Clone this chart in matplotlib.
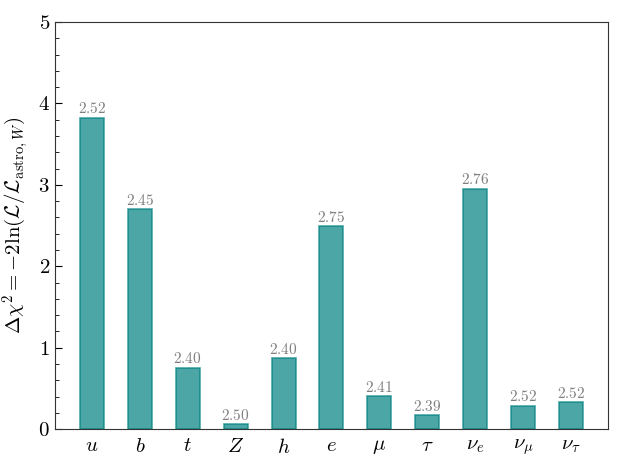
import numpy as np
import matplotlib
matplotlib.use("Agg")
import matplotlib.pyplot as plt
from matplotlib.ticker import MultipleLocator

plt.rcParams["font.family"] = "serif"
plt.rcParams["font.serif"] = ["cmr10"]
plt.rcParams["mathtext.fontset"] = "cm"
plt.rcParams["axes.formatter.use_mathtext"] = True

labels = [r"$u$", r"$b$", r"$t$", r"$Z$", r"$h$", r"$e$", r"$\mu$", r"$\tau$",
          r"$\nu_e$", r"$\nu_\mu$", r"$\nu_\tau$"]
delta_chi2 = [3.82, 2.70, 0.75, 0.06, 0.87, 2.49, 0.405, 0.17, 2.95, 0.29, 0.33]
annotations = ["2.52", "2.45", "2.40", "2.50", "2.40", "2.75", "2.41", "2.39",
               "2.76", "2.52", "2.52"]


def main():
    fig, ax = plt.subplots(figsize=(6.23, 4.67), dpi=100)
    x = np.arange(len(labels))
    bars = ax.bar(x, delta_chi2, width=0.5, color="teal", alpha=0.7,
                  edgecolor="teal", linewidth=1.2)
    for bar, txt in zip(bars, annotations):
        ax.text(bar.get_x() + bar.get_width() / 2, bar.get_height() + 0.02,
                f"${txt}$", ha="center", va="bottom", fontsize=11, color="gray")

    ax.set_xticks(x)
    ax.set_xticklabels(labels, fontsize=15)
    ax.set_ylim(0, 5)
    ax.yaxis.set_major_locator(MultipleLocator(1))
    ax.yaxis.set_minor_locator(MultipleLocator(0.2))
    ax.tick_params(axis="y", which="both", direction="in", labelsize=15)
    ax.tick_params(axis="y", which="major", length=5)
    ax.tick_params(axis="y", which="minor", length=3)
    ax.tick_params(axis="x", length=0, pad=6)
    ax.set_ylabel(r"$\Delta\chi^2 = -2\ln(\mathcal{L}/\mathcal{L}_{\rm astro,\mathit{W}})$",
                  fontsize=15)
    for s in ax.spines.values():
        s.set_color("#333333")
    fig.subplots_adjust(left=0.088, right=0.976, top=0.953, bottom=0.081)
    fig.savefig("out.png", dpi=100)


if __name__ == "__main__":
    main()
